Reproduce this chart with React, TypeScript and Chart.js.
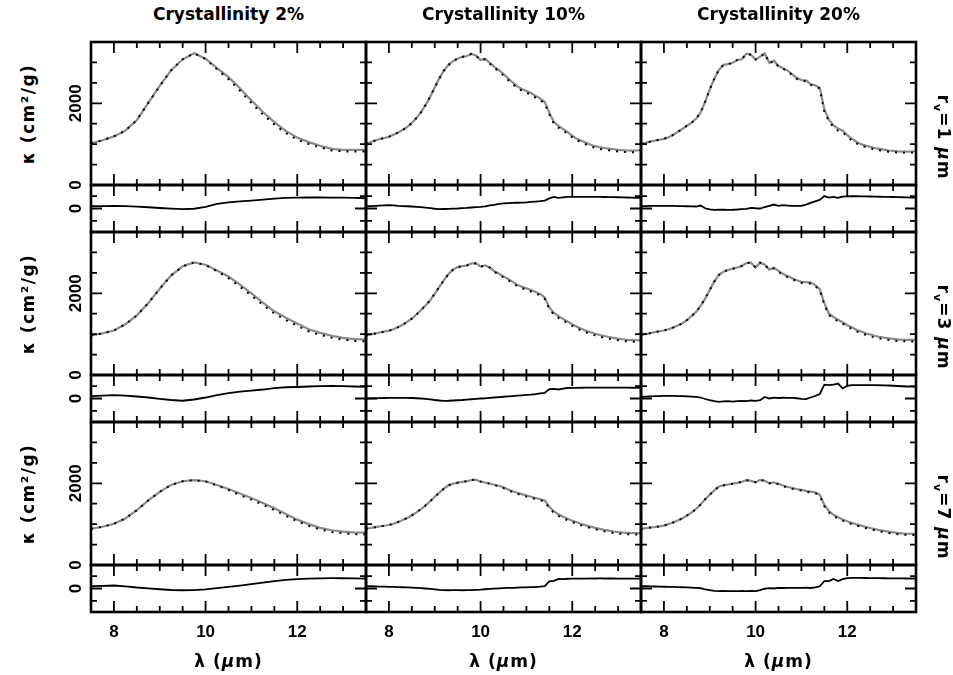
import React, { useEffect, useRef } from 'react';
import { Chart, registerables } from 'chart.js';

Chart.register(...registerables);

// ---------------- data ----------------
const LAMBDA_COARSE = [7.5, 7.75, 8, 8.25, 8.5, 8.75, 9, 9.25, 9.5, 9.75, 10, 10.25, 10.5, 10.75, 11, 11.25, 11.5, 11.75, 12, 12.25, 12.5, 12.75, 13, 13.25, 13.5];
const LAMBDA_FINE = [
  7.5, 7.6, 7.7, 7.8, 7.9, 8.0, 8.1, 8.2, 8.3, 8.4,
  8.5, 8.6, 8.7, 8.8, 8.9, 9.0, 9.1, 9.2, 9.3, 9.4,
  9.5, 9.6, 9.7, 9.8, 9.9, 10.0, 10.1, 10.2, 10.3, 10.4,
  10.5, 10.6, 10.7, 10.8, 10.9, 11.0, 11.1, 11.2, 11.3, 11.4,
  11.5, 11.6, 11.7, 11.8, 11.9, 12.0, 12.1, 12.2, 12.3, 12.4,
  12.5, 12.6, 12.7, 12.8, 12.9, 13.0, 13.1, 13.2, 13.3, 13.4,
  13.5,
];

const COLUMN_TITLES = ['Crystallinity 2%', 'Crystallinity 10%', 'Crystallinity 20%'];
const GRAIN_SIZES = ['1', '3', '7'];
const X_TICKS = [8, 8.5, 9, 9.5, 10, 10.5, 11, 11.5, 12, 12.5, 13];
const X_MAJOR_TICKS = [8, 10, 12];
const KAPPA_TICKS = [500, 1000, 1500, 2000, 2500, 3000];
const KAPPA_MAJOR_TICKS = [0, 2000];
const KAPPA_LABELS = [0, 2000];
const RESID_TICKS = [-500, 0, 500];
const RESID_MAJOR_TICKS = [0];
const RESID_LABELS = [0];

// row 1 (r_v = 1 um)
const R1C1_MODEL = [1020, 1095, 1190, 1330, 1590, 2010, 2426, 2810, 3077, 3224, 3090, 2860, 2640, 2370, 2066, 1785, 1540, 1325, 1160, 1050, 962, 885, 862, 858, 862];
const R1C1_FIT = [1020, 1095, 1190, 1330, 1590, 2010, 2426, 2810, 3077, 3224, 3080, 2830, 2590, 2310, 2006, 1725, 1480, 1270, 1110, 1005, 922, 845, 825, 817, 820];
const R1C1_RESID = [94, 100, 105, 95, 75, 50, 20, -5, -25, -10, 70, 190, 250, 290, 320, 360, 400, 430, 440, 445, 445, 443, 440, 430, 415];

const R1C2_MODEL = [
  1004, 1045, 1090, 1125, 1150, 1180, 1230, 1285, 1345, 1420,
  1520, 1640, 1780, 1960, 2160, 2390, 2610, 2800, 2940, 3030,
  3095, 3135, 3158, 3210, 3170, 3060, 3085, 2990, 2890, 2810,
  2717, 2610, 2510, 2415, 2350, 2300, 2250, 2180, 2120, 2030,
  1770, 1540, 1445, 1370, 1295, 1205, 1130, 1085, 1035, 985,
  950, 925, 905, 890, 875, 862, 852, 845, 840, 845,
  857,
];
const R1C2_FIT = [
  1004, 1045, 1090, 1125, 1150, 1180, 1230, 1285, 1345, 1420,
  1520, 1640, 1780, 1960, 2160, 2390, 2610, 2800, 2940, 3030,
  3095, 3135, 3158, 3210, 3170, 3060, 3080, 2975, 2865, 2780,
  2680, 2570, 2470, 2375, 2310, 2260, 2210, 2140, 2080, 1990,
  1730, 1500, 1405, 1330, 1255, 1165, 1090, 1045, 995, 945,
  910, 885, 865, 850, 835, 822, 812, 805, 800, 805,
  817,
];
const R1C2_RESID = [
  94, 100, 110, 120, 128, 134, 125, 110, 100, 90,
  80, 68, 55, 35, 15, -10, -27, -20, -15, -8,
  0, 15, 25, 40, 55, 67, 90, 130, 150, 190,
  205, 215, 225, 232, 240, 250, 265, 280, 295, 320,
  410, 465, 430, 450, 470, 470, 472, 472, 472, 470,
  470, 468, 465, 462, 460, 455, 450, 445, 440, 435,
  430,
];

const R1C3_MODEL = [
  1004, 1030, 1061, 1085, 1108, 1130, 1170, 1224, 1300, 1370,
  1450, 1520, 1620, 1770, 2040, 2340, 2600, 2820, 2940, 2960,
  2990, 3060, 3076, 3215, 3190, 3070, 3140, 3220, 2990, 3043,
  2913, 2860, 2800, 2710, 2620, 2570, 2560, 2470, 2440, 2380,
  1850, 1600, 1460, 1380, 1330, 1220, 1130, 1060, 1000, 965,
  935, 905, 885, 865, 845, 835, 825, 818, 815, 820,
  830,
];
const R1C3_FIT = [
  1004, 1030, 1061, 1085, 1108, 1130, 1170, 1224, 1300, 1370,
  1450, 1520, 1620, 1770, 2040, 2340, 2600, 2820, 2940, 2960,
  2990, 3060, 3076, 3215, 3190, 3070, 3140, 3220, 2980, 3030,
  2900, 2845, 2780, 2690, 2600, 2550, 2540, 2450, 2420, 2360,
  1800, 1560, 1420, 1330, 1290, 1180, 1090, 1020, 965, 930,
  900, 870, 850, 830, 815, 805, 795, 790, 790, 795,
  800,
];
const R1C3_RESID = [
  94, 100, 104, 106, 108, 108, 108, 104, 100, 95,
  90, 85, 80, 121, 10, -35, -54, -50, -45, -54,
  -50, -40, -25, -13, 27, 10, 0, 60, 110, 161,
  108, 134, 120, 108, 110, 108, 160, 225, 290, 345,
  500, 440, 470, 430, 484, 490, 497, 495, 492, 490,
  485, 480, 475, 472, 470, 465, 460, 455, 450, 445,
  443,
];

// row 2 (r_v = 3 um)
const R2C1_MODEL = [969, 1020, 1090, 1240, 1460, 1760, 2110, 2440, 2660, 2755, 2700, 2560, 2410, 2210, 2000, 1770, 1560, 1400, 1260, 1120, 1030, 960, 910, 880, 870];
const R2C1_FIT = [969, 1020, 1090, 1240, 1460, 1760, 2110, 2440, 2660, 2755, 2690, 2540, 2370, 2160, 1945, 1715, 1505, 1345, 1205, 1070, 980, 915, 865, 835, 825];
const R2C1_RESID = [94, 115, 134, 115, 80, 40, -15, -60, -90, -40, 40, 140, 215, 280, 320, 363, 420, 455, 465, 485, 500, 510, 500, 485, 470];

const R2C2_MODEL = [
  969, 990, 1015, 1040, 1060, 1085, 1120, 1170, 1230, 1300,
  1380, 1480, 1590, 1700, 1830, 1990, 2160, 2320, 2470, 2580,
  2640, 2665, 2680, 2730, 2730, 2655, 2680, 2630, 2540, 2480,
  2415, 2350, 2280, 2210, 2160, 2120, 2080, 2030, 1985, 1900,
  1650, 1520, 1440, 1370, 1310, 1240, 1180, 1130, 1085, 1045,
  1010, 980, 955, 930, 910, 890, 875, 862, 855, 850,
  846,
];
const R2C2_FIT = [
  969, 990, 1015, 1040, 1060, 1085, 1120, 1170, 1230, 1300,
  1380, 1480, 1590, 1700, 1830, 1990, 2160, 2320, 2470, 2580,
  2640, 2665, 2680, 2730, 2730, 2655, 2680, 2630, 2525, 2460,
  2390, 2320, 2250, 2175, 2125, 2085, 2045, 1995, 1950, 1865,
  1610, 1480, 1400, 1330, 1270, 1200, 1140, 1090, 1045, 1005,
  970, 940, 915, 890, 870, 850, 835, 822, 815, 810,
  806,
];
const R2C2_RESID = [
  0, 5, 10, 15, 20, 22, 25, 27, 27, 27,
  20, 10, 0, -15, -35, -60, -80, -94, -90, -80,
  -70, -60, -45, -30, -15, 0, 10, 25, 40, 55,
  70, 85, 100, 115, 130, 145, 160, 180, 205, 230,
  380, 390, 365, 400, 425, 430, 432, 435, 437, 440,
  442, 443, 443, 443, 443, 443, 440, 437, 435, 432,
  430,
];

const R2C3_MODEL = [
  985, 1000, 1025, 1050, 1070, 1090, 1120, 1160, 1210, 1260,
  1340, 1440, 1540, 1690, 1870, 2080, 2290, 2450, 2530, 2570,
  2600, 2630, 2670, 2740, 2750, 2630, 2750, 2700, 2580, 2625,
  2550, 2470, 2420, 2370, 2320, 2280, 2270, 2265, 2200, 2100,
  1760, 1500, 1420, 1350, 1290, 1220, 1170, 1110, 1065, 1020,
  990, 960, 935, 915, 900, 885, 872, 865, 862, 862,
  863,
];
const R2C3_FIT = [
  985, 1000, 1025, 1050, 1070, 1090, 1120, 1160, 1210, 1260,
  1340, 1440, 1540, 1690, 1870, 2080, 2290, 2450, 2530, 2570,
  2600, 2630, 2670, 2740, 2750, 2630, 2750, 2700, 2580, 2610,
  2530, 2450, 2395, 2345, 2295, 2255, 2245, 2240, 2175, 2075,
  1720, 1465, 1385, 1315, 1255, 1185, 1130, 1070, 1025, 985,
  950, 920, 895, 875, 860, 845, 832, 825, 822, 822,
  823,
];
const R2C3_RESID = [
  67, 75, 85, 95, 100, 105, 107, 105, 100, 95,
  85, 75, 67, 40, -20, -70, -110, -134, -120, -110,
  -125, -107, -100, -110, -80, -95, -67, 60, 0, 35,
  20, 30, 25, 27, 10, -15, -27, 40, 100, 180,
  560, 537, 560, 604, 410, 510, 537, 537, 537, 537,
  537, 537, 535, 530, 525, 515, 505, 495, 485, 478,
  470,
];

// row 3 (r_v = 7 um)
const R3C1_MODEL = [887, 935, 1010, 1140, 1340, 1580, 1790, 1960, 2050, 2079, 2050, 1960, 1860, 1750, 1640, 1520, 1390, 1250, 1110, 1000, 910, 850, 815, 795, 790];
const R3C1_FIT = [887, 935, 1010, 1140, 1340, 1580, 1790, 1960, 2050, 2079, 2045, 1945, 1835, 1715, 1600, 1475, 1345, 1205, 1070, 960, 870, 810, 775, 755, 750];
const R3C1_RESID = [94, 110, 121, 90, 40, 5, -30, -60, -70, -67, -35, 15, 65, 120, 180, 235, 295, 345, 380, 400, 412, 416, 415, 410, 403];

const R3C2_MODEL = [
  887, 905, 925, 945, 960, 980, 1010, 1050, 1100, 1150,
  1216, 1290, 1370, 1460, 1560, 1670, 1770, 1870, 1950, 1990,
  2015, 2035, 2050, 2080, 2090, 2040, 2020, 1990, 1965, 1940,
  1900, 1850, 1805, 1770, 1735, 1700, 1670, 1640, 1610, 1580,
  1420, 1310, 1240, 1180, 1130, 1085, 1045, 1005, 970, 940,
  910, 885, 860, 840, 820, 805, 795, 788, 783, 781,
  781,
];
const R3C2_FIT = [
  887, 905, 925, 945, 960, 980, 1010, 1050, 1100, 1150,
  1216, 1290, 1370, 1460, 1560, 1670, 1770, 1870, 1950, 1990,
  2015, 2035, 2050, 2080, 2090, 2040, 2020, 1990, 1955, 1925,
  1880, 1830, 1785, 1745, 1710, 1675, 1645, 1615, 1585, 1555,
  1390, 1280, 1205, 1145, 1095, 1050, 1010, 970, 935, 905,
  875, 850, 825, 805, 785, 770, 760, 752, 748, 745,
  745,
];
const R3C2_RESID = [
  94, 90, 85, 78, 72, 67, 62, 57, 50, 42,
  35, 27, 15, 0, -15, -35, -55, -67, -70, -68,
  -67, -70, -67, -65, -55, -45, -30, -15, -5, 5,
  15, 22, 27, 35, 42, 48, 52, 60, 75, 100,
  290, 310, 385, 380, 395, 400, 403, 403, 403, 405,
  405, 406, 405, 404, 404, 403, 403, 402, 402, 403,
  403,
];

const R3C3_MODEL = [
  887, 900, 915, 930, 945, 965, 1000, 1040, 1090, 1140,
  1210, 1280, 1370, 1480, 1610, 1720, 1830, 1920, 1950, 1970,
  1990, 2010, 2035, 2075, 2060, 2025, 2085, 2060, 2000, 2020,
  1985, 1945, 1910, 1885, 1860, 1840, 1815, 1795, 1780, 1720,
  1470, 1320, 1230, 1170, 1115, 1070, 1030, 995, 965, 935,
  905, 880, 855, 835, 815, 800, 785, 775, 768, 765,
  764,
];
const R3C3_FIT = [
  887, 900, 915, 930, 945, 965, 1000, 1040, 1090, 1140,
  1210, 1280, 1370, 1480, 1610, 1720, 1830, 1920, 1950, 1970,
  1990, 2010, 2035, 2075, 2060, 2025, 2085, 2060, 2000, 2020,
  1970, 1930, 1895, 1868, 1840, 1820, 1795, 1775, 1760, 1700,
  1440, 1290, 1200, 1140, 1085, 1040, 1000, 965, 935, 905,
  875, 850, 825, 805, 785, 770, 755, 745, 738, 735,
  734,
];
const R3C3_RESID = [
  94, 90, 85, 80, 75, 70, 67, 62, 55, 50,
  42, 35, 27, 10, -40, -70, -95, -107, -100, -110,
  -105, -110, -100, -107, -95, -105, -67, -10, 13, 0,
  27, 20, 27, 25, 27, 27, 30, 20, 45, 90,
  295, 300, 389, 300, 380, 420, 430, 430, 428, 425,
  422, 420, 418, 415, 413, 410, 408, 406, 405, 404,
  403,
];

const MODEL = [
  [R1C1_MODEL, R1C2_MODEL, R1C3_MODEL],
  [R2C1_MODEL, R2C2_MODEL, R2C3_MODEL],
  [R3C1_MODEL, R3C2_MODEL, R3C3_MODEL],
];
const FIT = [
  [R1C1_FIT, R1C2_FIT, R1C3_FIT],
  [R2C1_FIT, R2C2_FIT, R2C3_FIT],
  [R3C1_FIT, R3C2_FIT, R3C3_FIT],
];
const RESID = [
  [R1C1_RESID, R1C2_RESID, R1C3_RESID],
  [R2C1_RESID, R2C2_RESID, R2C3_RESID],
  [R3C1_RESID, R3C2_RESID, R3C3_RESID],
];
const LAMBDA_BY_COL = [LAMBDA_COARSE, LAMBDA_FINE, LAMBDA_FINE];

// ---------------- layout / style ----------------
const COL_LEFTS = [91, 366, 641];
const PANEL_W = 275;
const MAIN_TOPS = [42, 232, 422];
const MAIN_H = 143;
const RESID_H = 47;
const KAPPA_MIN = 0;
const KAPPA_MAX = 3500;
const RESID_MIN = -950;
const RESID_MAX = 950;
const X_MIN = 7.5;
const X_MAX = 13.5;

const TEXT_FONT = '"DejaVu Sans", sans-serif';
const TICK_FONT = 'bold 17px "Liberation Sans", "DejaVu Sans", sans-serif';

type PanelSpec = {
  key: string;
  left: number;
  top: number;
  height: number;
  yMin: number;
  yMax: number;
  yTicks: number[];
  yMajor: number[];
  yLabels: number[] | null;
  xLabels: number[] | null;
  datasets: any[];
};

function pts(xs: number[], ys: number[]) {
  return xs.map((x, i) => ({ x, y: ys[i] }));
}

function buildSpecs(): PanelSpec[] {
  const specs: PanelSpec[] = [];
  for (let r = 0; r < 3; r++) {
    for (let c = 0; c < 3; c++) {
      const lam = LAMBDA_BY_COL[c];
      specs.push({
        key: `m${r}${c}`,
        left: COL_LEFTS[c],
        top: MAIN_TOPS[r],
        height: MAIN_H,
        yMin: KAPPA_MIN,
        yMax: KAPPA_MAX,
        yTicks: KAPPA_TICKS,
        yMajor: KAPPA_MAJOR_TICKS,
        yLabels: c === 0 ? KAPPA_LABELS : null,
        xLabels: null,
        datasets: [
          {
            data: pts(lam, FIT[r][c]),
            borderColor: '#000000',
            borderWidth: 2,
            borderDash: [2, 6],
            pointRadius: 0,
            tension: 0,
          },
          {
            data: pts(lam, MODEL[r][c]),
            borderColor: '#8a8a8a',
            borderWidth: 2.2,
            pointRadius: 0,
            tension: 0,
          },
        ],
      });
      specs.push({
        key: `r${r}${c}`,
        left: COL_LEFTS[c],
        top: MAIN_TOPS[r] + MAIN_H,
        height: RESID_H,
        yMin: RESID_MIN,
        yMax: RESID_MAX,
        yTicks: RESID_TICKS,
        yMajor: RESID_MAJOR_TICKS,
        yLabels: c === 0 ? RESID_LABELS : null,
        xLabels: r === 2 ? X_MAJOR_TICKS : null,
        datasets: [
          {
            data: pts(lam, RESID[r][c]),
            borderColor: '#000000',
            borderWidth: 1.8,
            pointRadius: 0,
            tension: 0,
          },
        ],
      });
    }
  }
  return specs;
}

const SPECS = buildSpecs();

function makeAxesPlugin(s: PanelSpec) {
  return {
    id: 'pgplotAxes',
    afterDatasetsDraw(chart: any) {
      const { ctx, chartArea: a } = chart;
      const xs = chart.scales.x;
      const ys = chart.scales.y;
      ctx.save();
      ctx.strokeStyle = '#000';
      ctx.lineCap = 'butt';
      ctx.lineWidth = 1.8;
      ctx.beginPath();
      for (const t of X_TICKS) {
        const len = X_MAJOR_TICKS.includes(t) ? 11 : 6;
        const px = xs.getPixelForValue(t);
        ctx.moveTo(px, a.top);
        ctx.lineTo(px, a.top + len);
        ctx.moveTo(px, a.bottom);
        ctx.lineTo(px, a.bottom - len);
      }
      for (const t of s.yTicks) {
        const len = s.yMajor.includes(t) ? 11 : 6;
        const py = ys.getPixelForValue(t);
        ctx.moveTo(a.left, py);
        ctx.lineTo(a.left + len, py);
        ctx.moveTo(a.right, py);
        ctx.lineTo(a.right - len, py);
      }
      ctx.stroke();
      ctx.lineWidth = 2.6;
      ctx.strokeRect(a.left, a.top, a.right - a.left, a.bottom - a.top);

      ctx.fillStyle = '#000';
      ctx.font = TICK_FONT;
      ctx.textAlign = 'center';
      ctx.textBaseline = 'middle';
      if (s.yLabels) {
        for (const v of s.yLabels) {
          ctx.save();
          ctx.translate(a.left - 16, ys.getPixelForValue(v));
          ctx.rotate(-Math.PI / 2);
          ctx.fillText(String(v), 0, 1);
          ctx.restore();
        }
      }
      if (s.xLabels) {
        for (const v of s.xLabels) {
          ctx.fillText(String(v), xs.getPixelForValue(v), a.bottom + 20);
        }
      }
      ctx.restore();
    },
  };
}

function Panel({ spec }: { spec: PanelSpec }) {
  const ref = useRef<HTMLCanvasElement>(null);
  const padL = spec.yLabels ? 45 : 4;
  const padR = 4;
  const padT = 4;
  const padB = spec.xLabels ? 36 : 4;
  const w = PANEL_W + padL + padR;
  const h = spec.height + padT + padB;

  useEffect(() => {
    const chart = new Chart(ref.current as HTMLCanvasElement, {
      type: 'line',
      data: { datasets: spec.datasets },
      options: {
        animation: false,
        responsive: false,
        maintainAspectRatio: false,
        devicePixelRatio: 1,
        events: [],
        layout: { padding: { left: padL, right: padR, top: padT, bottom: padB } },
        plugins: {
          legend: { display: false },
          tooltip: { enabled: false },
          title: { display: false },
        },
        scales: {
          x: { type: 'linear', min: X_MIN, max: X_MAX, display: false },
          y: { type: 'linear', min: spec.yMin, max: spec.yMax, display: false },
        },
      },
      plugins: [makeAxesPlugin(spec)],
    } as any);
    return () => chart.destroy();
  }, []);

  return (
    <canvas
      ref={ref}
      width={w}
      height={h}
      style={{ position: 'absolute', left: spec.left - padL, top: spec.top - padT, width: w, height: h }}
    />
  );
}

const textBase: React.CSSProperties = {
  position: 'absolute',
  fontFamily: TEXT_FONT,
  fontWeight: 'bold',
  fontSize: 17,
  color: '#000',
  whiteSpace: 'nowrap',
  lineHeight: 1,
};

export default function App() {
  return (
    <div
      style={{
        position: 'fixed',
        left: 0,
        top: 0,
        width: 953,
        height: 675,
        background: '#fff',
        overflow: 'hidden',
      }}
    >
      {SPECS.map((s) => (
        <Panel key={s.key} spec={s} />
      ))}
      {COLUMN_TITLES.map((t, c) => (
        <div
          key={'ct' + c}
          style={{ ...textBase, left: COL_LEFTS[c] + PANEL_W / 2, top: 14, transform: 'translate(-50%,-50%)' }}
        >
          {t}
        </div>
      ))}
      {COLUMN_TITLES.map((_, c) => (
        <div
          key={'xt' + c}
          style={{ ...textBase, left: COL_LEFTS[c] + PANEL_W / 2, top: 661, letterSpacing: 1, transform: 'translate(-50%,-50%)' }}
        >
          λ (<i>μ</i>m)
        </div>
      ))}
      {GRAIN_SIZES.map((g, r) => (
        <div
          key={'yt' + r}
          style={{
            ...textBase,
            left: 28,
            top: MAIN_TOPS[r] + MAIN_H / 2,
            letterSpacing: 1.5,
            transform: 'translate(-50%,-50%) rotate(-90deg)',
          }}
        >
          κ (cm²/g)
        </div>
      ))}
      {GRAIN_SIZES.map((g, r) => (
        <div
          key={'rl' + r}
          style={{
            ...textBase,
            left: 942,
            top: MAIN_TOPS[r] + (MAIN_H + RESID_H) / 2,
            letterSpacing: 1,
            transform: 'translate(-50%,-50%) rotate(90deg)',
          }}
        >
          r<sub style={{ fontSize: 11, verticalAlign: -4 }}>v</sub>={g} <i>μ</i>m
        </div>
      ))}
    </div>
  );
}
